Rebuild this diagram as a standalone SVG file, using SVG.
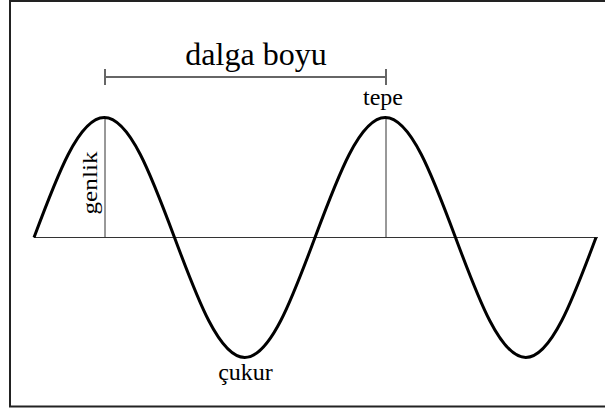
<svg xmlns="http://www.w3.org/2000/svg" width="605" height="412" viewBox="0 0 605 412">
  <style>
    .lbl { font-family: "Liberation Serif", "Times New Roman", serif; fill: #000; text-anchor: middle; }
    .thin { stroke: #333; stroke-width: 1; fill: none; }
    .wave { stroke: #000; stroke-width: 3; fill: none; stroke-linejoin: round; }
    .bracket { stroke: #666; stroke-width: 2; fill: none; }
  </style>
  <rect x="0" y="0" width="605" height="412" fill="#fff"/>
  <g id="frame">
    <path d="M605,406.5 H10 V1 H605" stroke="#222" stroke-width="2" fill="none"/>
  </g>
  <g id="connectors">
    <line class="thin" x1="34" y1="237.5" x2="598" y2="237.5"/>
    <line class="thin" x1="105" y1="117" x2="105" y2="237.5"/>
    <line class="thin" x1="386" y1="117" x2="386" y2="237.5"/>
    <line class="bracket" x1="105" y1="77" x2="386" y2="77"/>
    <line class="bracket" x1="105" y1="69" x2="105" y2="85" stroke-width="1.5"/>
    <line class="bracket" x1="386" y1="69" x2="386" y2="85" stroke-width="1.5"/>
  </g>
  <g id="wave">
    <path class="wave" d="M34,237.5 C56.91,176.03 78.82,117.5 104.25,117.5 C129.68,117.5 151.59,176.03 174.5,237.5 C197.41,298.97 219.32,357.5 244.75,357.5 C270.18,357.5 292.09,298.97 315,237.5 C337.91,176.03 359.82,117.5 385.25,117.5 C410.68,117.5 432.59,176.03 455.5,237.5 C478.41,298.97 500.32,357.5 525.75,357.5 C551.18,357.5 573.09,298.97 596,237.5"/>
  </g>
  <g id="label-dalga-boyu"><text class="lbl" x="256" y="65" font-size="32">dalga boyu</text></g>
  <g id="label-tepe"><text class="lbl" x="383" y="105" font-size="24">tepe</text></g>
  <g id="label-genlik"><text class="lbl" transform="translate(97,183) rotate(-90)" font-size="22" textLength="63" lengthAdjust="spacingAndGlyphs">genlik</text></g>
  <g id="label-cukur"><text class="lbl" x="245.5" y="380" font-size="24">çukur</text></g>
</svg>
